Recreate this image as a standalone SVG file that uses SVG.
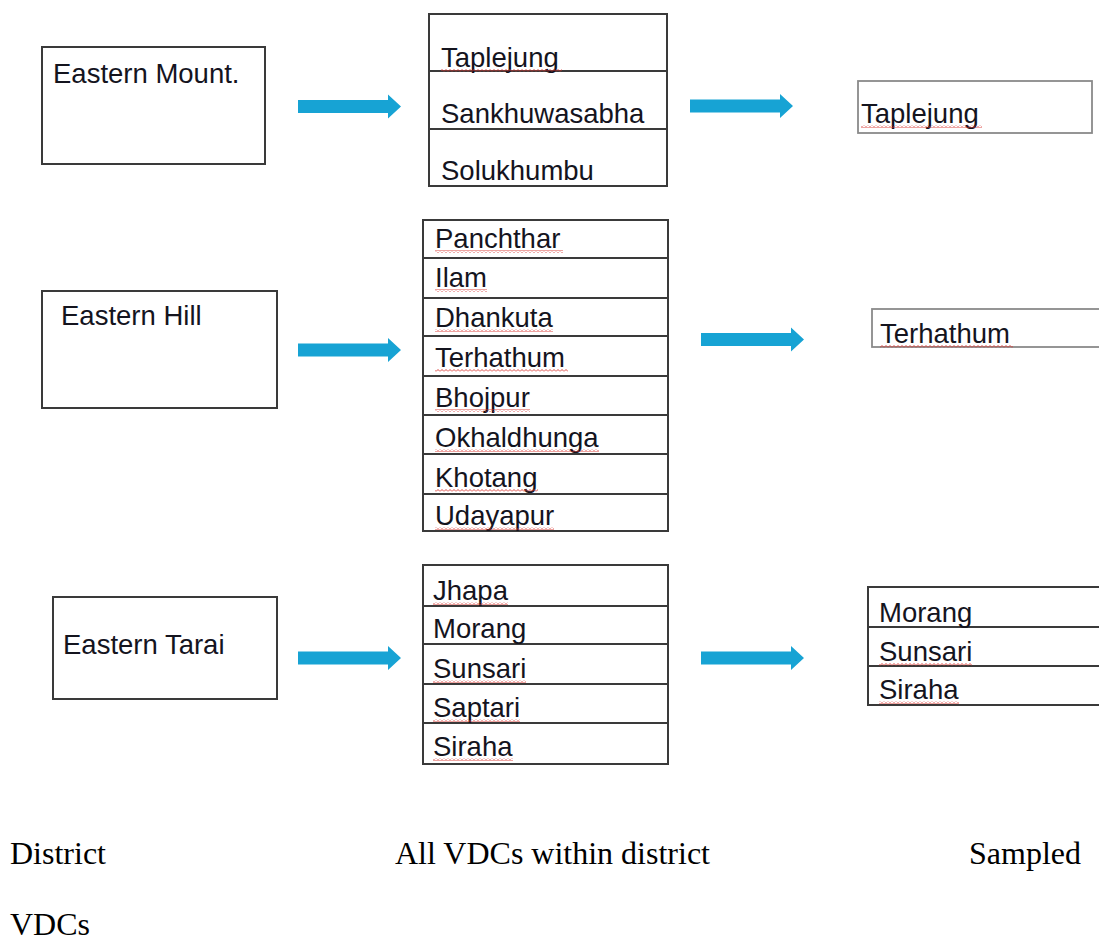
<svg xmlns="http://www.w3.org/2000/svg" xmlns:xlink="http://www.w3.org/1999/xlink" width="1099" height="940" viewBox="0 0 1099 940">
<style>
.box{fill:#fff;stroke:#3a3a3a;stroke-width:2}
.lbox{fill:#fff;stroke:#8a8a8a;stroke-width:1.8}
.div{stroke:#3a3a3a;stroke-width:2}
.t{font-family:"Liberation Sans",Arial,Helvetica,sans-serif;font-size:27.5px;fill:#14141e}
.cap{font-family:"Liberation Serif","Times New Roman",serif;font-size:32px;fill:#000}
.arr{fill:#17a3d4}
.sq{fill:url(#squig)}
</style>
<defs>
<pattern id="squig" patternUnits="userSpaceOnUse" width="4" height="3">
<path d="M0 2.5 L2 0.5 L4 2.5" fill="none" stroke="#d9362f" stroke-width="0.9"/>
</pattern>
<path id="arrow" d="M0,-6.5 H90 V-12 L103,0 L90,12 V6.5 H0 Z"/>
</defs>

<g id="connectors">
<use xlink:href="#arrow" class="arr" transform="translate(298,106.5)"/>
<use xlink:href="#arrow" class="arr" transform="translate(690,106)"/>
<use xlink:href="#arrow" class="arr" transform="translate(298,350)"/>
<use xlink:href="#arrow" class="arr" transform="translate(701,339.5)"/>
<use xlink:href="#arrow" class="arr" transform="translate(298,658)"/>
<use xlink:href="#arrow" class="arr" transform="translate(701,658)"/>
</g>

<g id="eastern-mount">
<rect class="box" x="42" y="47" width="223" height="117"/>
<text class="t" x="53" y="83">Eastern Mount.</text>
</g>

<g id="mount-vdcs">
<rect class="box" x="429" y="14" width="238" height="172"/>
<line class="div" x1="429" y1="71" x2="667" y2="71"/>
<line class="div" x1="429" y1="129" x2="667" y2="129"/>
<text class="t" x="441" y="67">Taplejung</text>
<rect class="sq" x="441" y="69" width="121" height="3"/>
<text class="t" x="441" y="123">Sankhuwasabha</text>
<text class="t" x="441" y="180">Solukhumbu</text>
</g>

<g id="mount-sampled">
<rect class="lbox" x="858" y="81" width="234" height="52"/>
<text class="t" x="861" y="123">Taplejung</text>
<rect class="sq" x="861" y="125" width="121" height="3"/>
</g>

<g id="eastern-hill">
<rect class="box" x="42" y="291" width="235" height="117"/>
<text class="t" x="61" y="325">Eastern Hill</text>
</g>

<g id="hill-vdcs">
<rect class="box" x="423" y="220" width="245" height="311"/>
<line class="div" x1="423" y1="258" x2="668" y2="258"/>
<line class="div" x1="423" y1="298" x2="668" y2="298"/>
<line class="div" x1="423" y1="336" x2="668" y2="336"/>
<line class="div" x1="423" y1="376" x2="668" y2="376"/>
<line class="div" x1="423" y1="415" x2="668" y2="415"/>
<line class="div" x1="423" y1="454" x2="668" y2="454"/>
<line class="div" x1="423" y1="494" x2="668" y2="494"/>
<text class="t" x="435" y="248">Panchthar</text>
<rect class="sq" x="435" y="250" width="128" height="3"/>
<text class="t" x="435" y="287">Ilam</text>
<rect class="sq" x="435" y="289" width="52" height="3"/>
<text class="t" x="435" y="327">Dhankuta</text>
<rect class="sq" x="435" y="329" width="118" height="3"/>
<text class="t" x="435" y="367">Terhathum</text>
<rect class="sq" x="435" y="369" width="133" height="3"/>
<text class="t" x="435" y="407">Bhojpur</text>
<rect class="sq" x="435" y="409" width="95" height="3"/>
<text class="t" x="435" y="447">Okhaldhunga</text>
<rect class="sq" x="435" y="449" width="164" height="3"/>
<text class="t" x="435" y="487">Khotang</text>
<rect class="sq" x="435" y="489" width="103" height="3"/>
<text class="t" x="435" y="525">Udayapur</text>
<rect class="sq" x="435" y="527" width="119" height="3"/>
</g>

<g id="hill-sampled">
<rect class="lbox" x="872" y="309" width="240" height="38"/>
<text class="t" x="880" y="343">Terhathum</text>
<rect class="sq" x="880" y="345" width="133" height="3"/>
</g>

<g id="eastern-tarai">
<rect class="box" x="53" y="597" width="224" height="102"/>
<text class="t" x="63" y="654">Eastern Tarai</text>
</g>

<g id="tarai-vdcs">
<rect class="box" x="423" y="565" width="245" height="199"/>
<line class="div" x1="423" y1="606" x2="668" y2="606"/>
<line class="div" x1="423" y1="644" x2="668" y2="644"/>
<line class="div" x1="423" y1="684" x2="668" y2="684"/>
<line class="div" x1="423" y1="723" x2="668" y2="723"/>
<text class="t" x="433" y="600">Jhapa</text>
<rect class="sq" x="433" y="602" width="75" height="3"/>
<text class="t" x="433" y="638">Morang</text>
<text class="t" x="433" y="678">Sunsari</text>
<rect class="sq" x="433" y="680" width="93" height="3"/>
<text class="t" x="433" y="717">Saptari</text>
<rect class="sq" x="433" y="719" width="87" height="3"/>
<text class="t" x="433" y="756">Siraha</text>
<rect class="sq" x="433" y="758" width="80" height="3"/>
</g>

<g id="tarai-sampled">
<rect class="box" x="868" y="587" width="250" height="118"/>
<line class="div" x1="868" y1="627" x2="1110" y2="627"/>
<line class="div" x1="868" y1="666" x2="1110" y2="666"/>
<text class="t" x="879" y="622">Morang</text>
<text class="t" x="879" y="661">Sunsari</text>
<rect class="sq" x="879" y="663" width="93" height="3"/>
<text class="t" x="879" y="699">Siraha</text>
<rect class="sq" x="879" y="701" width="80" height="3"/>
</g>

<g id="captions">
<text class="cap" x="10" y="864">District</text>
<text class="cap" x="395" y="864">All VDCs within district</text>
<text class="cap" x="969" y="864">Sampled</text>
<text class="cap" x="10" y="935">VDCs</text>
</g>
</svg>
